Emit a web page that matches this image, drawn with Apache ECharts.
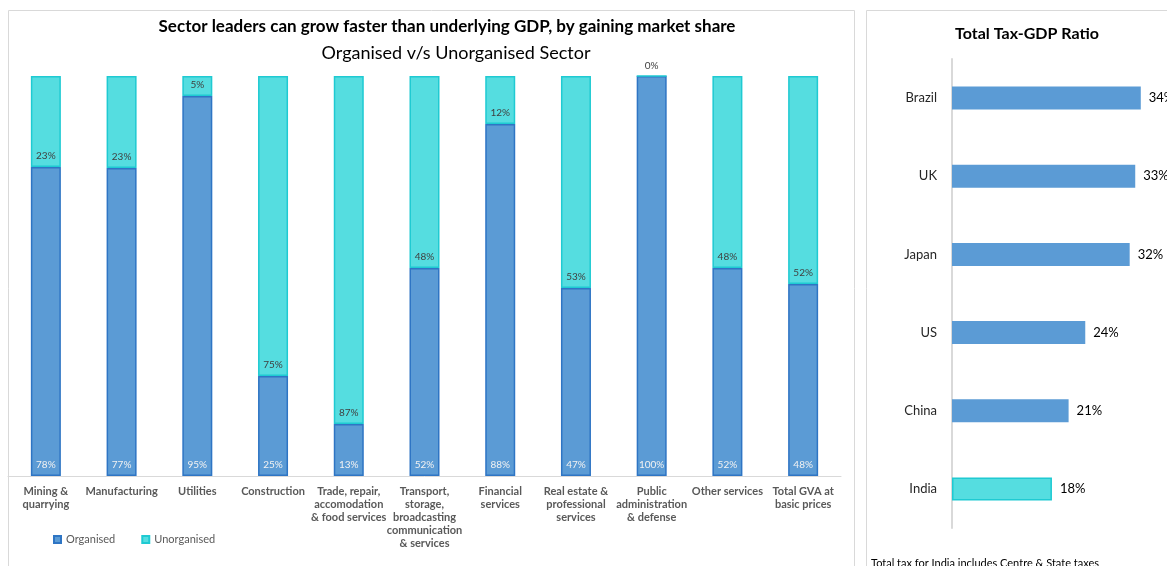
<!DOCTYPE html>
<html>
<head>
<meta charset="utf-8">
<script src="https://cdn.jsdelivr.net/npm/echarts@6/dist/echarts.min.js"></script>
<style>
  html, body { margin: 0; padding: 0; background: #fff; }
  #chart { width: 1167px; height: 566px; }
</style>
</head>
<body>
<div id="chart"></div>
<script>
// left chart: organised vs unorganised share by sector
const sectors = [
  'Mining &\nquarrying', 'Manufacturing', 'Utilities', 'Construction',
  'Trade, repair,\naccomodation\n& food services',
  'Transport,\nstorage,\nbroadcasting\ncommunication\n& services',
  'Financial\nservices', 'Real estate &\nprofessional\nservices',
  'Public\nadministration\n& defense', 'Other services', 'Total GVA at\nbasic prices'
];
const organised = [78, 77, 95, 25, 13, 52, 88, 47, 100, 52, 48];
const unorganised = [23, 23, 5, 75, 87, 48, 12, 53, 0, 48, 52];

// right chart: tax to GDP
const countries = ['Brazil', 'UK', 'Japan', 'US', 'China', 'India'];
const taxRatio = [34, 33, 32, 24, 21, 18];

const font = 'Lato';
const blue = '#5b9bd5', blueBorder = '#2e75c4';
const cyan = '#55dde0', cyanBorder = '#1fcad2';

// 100% stacked: plot the share, label the raw number
const share = (a, i) => ({ value: a[i] / (organised[i] + unorganised[i]) * 100, raw: a[i] });

const myChart = echarts.init(document.getElementById('chart'));

const option = {
  animation: false,
  textStyle: { fontFamily: font },
  graphic: [
    { type: 'rect', shape: { x: 8.5, y: 10.5, width: 846, height: 600 },
      style: { fill: 'none', stroke: '#d9d9d9', lineWidth: 1 } },
    { type: 'rect', shape: { x: 866.5, y: 10.5, width: 400, height: 600 },
      style: { fill: 'none', stroke: '#d9d9d9', lineWidth: 1 } },
    { type: 'text', left: 871, top: 558,
      style: { text: 'Total tax for India includes Centre & State taxes', fontSize: 11, fill: '#000', fontFamily: font } }
  ],
  title: [
    { text: 'Sector leaders can grow faster than underlying GDP, by gaining market share',
      left: 442, top: 13, textAlign: 'center',
      textStyle: { fontSize: 17, fontWeight: 'bold', color: '#000', fontFamily: font } },
    { text: 'Organised v/s Unorganised Sector',
      left: 451, top: 39, textAlign: 'center',
      textStyle: { fontSize: 18, fontWeight: 'normal', color: '#000', fontFamily: font } },
    { text: 'Total Tax-GDP Ratio',
      left: 1022, top: 21, textAlign: 'center',
      textStyle: { fontSize: 16, fontWeight: 'bold', color: '#000', fontFamily: font } }
  ],
  legend: {
    left: 48, top: 529,
    itemWidth: 7, itemHeight: 7, itemGap: 26,
    icon: 'rect',
    textStyle: { fontSize: 11, color: '#595959', fontFamily: font },
    data: ['Organised', 'Unorganised']
  },
  grid: [
    { left: 8, top: 76, width: 833, height: 400 },
    { left: 952, top: 59, width: 211, height: 469 }
  ],
  xAxis: [
    {
      gridIndex: 0, type: 'category', data: sectors,
      axisLine: { lineStyle: { color: '#d9d9d9', width: 1 } },
      axisTick: { show: false },
      axisLabel: { interval: 0, margin: 9, fontSize: 11, lineHeight: 13, fontWeight: 'bold', color: '#595959', fontFamily: font }
    },
    { gridIndex: 1, type: 'value', min: 0, max: 38, show: false }
  ],
  yAxis: [
    { gridIndex: 0, type: 'value', min: 0, max: 100, show: false },
    {
      gridIndex: 1, type: 'category', data: countries, inverse: true,
      axisLine: { lineStyle: { color: '#d9d9d9', width: 2 } },
      axisTick: { show: false },
      axisLabel: { margin: 15, fontSize: 13, color: '#262626', fontFamily: font }
    }
  ],
  series: [
    {
      name: 'Organised', type: 'bar', stack: 's', xAxisIndex: 0, yAxisIndex: 0,
      barWidth: 30,
      data: organised.map((v, i) => share(organised, i)),
      itemStyle: { color: blue, borderColor: blueBorder, borderWidth: 1.5 },
      label: { show: true, position: 'insideBottom', distance: 6, fontSize: 10, color: '#f2f2f2',
        formatter: p => p.data.raw + '%' }
    },
    {
      name: 'Unorganised', type: 'bar', stack: 's', xAxisIndex: 0, yAxisIndex: 0,
      barWidth: 30,
      data: unorganised.map((v, i) => share(unorganised, i)),
      itemStyle: { color: cyan, borderColor: cyanBorder, borderWidth: 1.5 },
      label: { show: true, position: 'insideBottom', distance: 6, fontSize: 10, color: '#404040',
        formatter: p => p.data.raw + '%' }
    },
    {
      name: 'Tax', type: 'bar', xAxisIndex: 1, yAxisIndex: 1,
      barWidth: 23,
      data: taxRatio.map((v, i) => countries[i] === 'India'
        ? { value: v, itemStyle: { color: cyan, borderColor: cyanBorder, borderWidth: 1.5 } }
        : { value: v }),
      itemStyle: { color: blue },
      label: { show: true, position: 'right', distance: 8, fontSize: 13, color: '#000',
        formatter: '{c}%' }
    }
  ]
};

myChart.setOption(option);
</script>
</body>
</html>
